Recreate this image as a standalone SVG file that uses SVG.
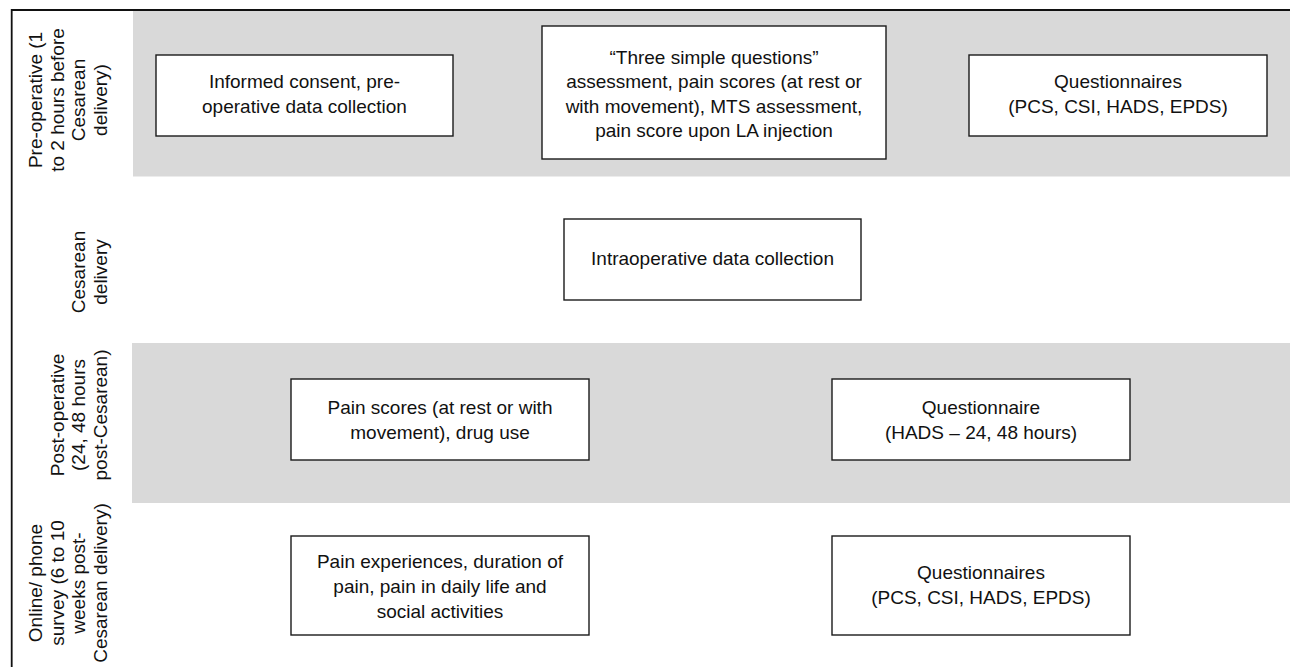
<svg xmlns="http://www.w3.org/2000/svg" width="1290" height="667" viewBox="0 0 1290 667">
<style>
  .band { fill: #d9d9d9; stroke: none; }
  .frame { stroke: #111; stroke-width: 1.8; fill: none; }
  .box { fill: #ffffff; stroke: #1a1a1a; stroke-width: 1.4; }
  .t { font-family: "Liberation Sans", Arial, sans-serif; font-size: 19px; fill: #111; text-anchor: middle; }
</style>
<rect width="1290" height="667" fill="#ffffff"/>
<g id="bands">
  <rect class="band" x="133" y="10" width="1157" height="166.5"/>
  <rect class="band" x="132" y="343" width="1158" height="160"/>
</g>
<g id="frame">
  <path class="frame" d="M11.7,667 L11.7,10 L1290,10"/>
</g>
<g id="labels">
  <g id="label-preop" transform="rotate(-90)">
    <text class="t" x="-100" y="42">Pre-operative (1</text>
    <text class="t" x="-100" y="63.7">to 2 hours before</text>
    <text class="t" x="-100" y="85.3">Cesarean</text>
    <text class="t" x="-100" y="107">delivery)</text>
  </g>
  <g id="label-cesarean" transform="rotate(-90)">
    <text class="t" x="-272" y="85.3">Cesarean</text>
    <text class="t" x="-272" y="107">delivery</text>
  </g>
  <g id="label-postop" transform="rotate(-90)">
    <text class="t" x="-415" y="63.7">Post-operative</text>
    <text class="t" x="-415" y="85.3">(24, 48 hours</text>
    <text class="t" x="-415" y="107">post-Cesarean)</text>
  </g>
  <g id="label-survey" transform="rotate(-90)">
    <text class="t" x="-583" y="42">Online/ phone</text>
    <text class="t" x="-583" y="63.7">survey (6 to 10</text>
    <text class="t" x="-583" y="85.3">weeks post-</text>
    <text class="t" x="-583" y="107">Cesarean delivery)</text>
  </g>
</g>
<g id="connectors"></g>
<g id="node-consent">
  <rect class="box" x="156" y="55" width="297" height="81"/>
  <text class="t" x="304.5" y="88">Informed consent, pre-</text>
  <text class="t" x="304.5" y="113">operative data collection</text>
</g>
<g id="node-three-questions">
  <rect class="box" x="542" y="26" width="344" height="133"/>
  <text class="t" x="714" y="63.5">“Three simple questions”</text>
  <text class="t" x="714" y="88">assessment, pain scores (at rest or</text>
  <text class="t" x="714" y="112.5">with movement), MTS assessment,</text>
  <text class="t" x="714" y="137">pain score upon LA injection</text>
</g>
<g id="node-questionnaires-pre">
  <rect class="box" x="969" y="55" width="298" height="81"/>
  <text class="t" x="1118" y="88">Questionnaires</text>
  <text class="t" x="1118" y="113">(PCS, CSI, HADS, EPDS)</text>
</g>
<g id="node-intraop">
  <rect class="box" x="564" y="219" width="297" height="81"/>
  <text class="t" x="712.5" y="264.5">Intraoperative data collection</text>
</g>
<g id="node-pain-scores">
  <rect class="box" x="291" y="379" width="298" height="81"/>
  <text class="t" x="440" y="413.5">Pain scores (at rest or with</text>
  <text class="t" x="440" y="438.5">movement), drug use</text>
</g>
<g id="node-hads">
  <rect class="box" x="832" y="379" width="298" height="81"/>
  <text class="t" x="981" y="413.5">Questionnaire</text>
  <text class="t" x="981" y="438.5">(HADS – 24, 48 hours)</text>
</g>
<g id="node-pain-experiences">
  <rect class="box" x="291" y="536" width="298" height="99"/>
  <text class="t" x="440" y="568">Pain experiences, duration of</text>
  <text class="t" x="440" y="593">pain, pain in daily life and</text>
  <text class="t" x="440" y="618">social activities</text>
</g>
<g id="node-questionnaires-post">
  <rect class="box" x="832" y="536" width="298" height="99"/>
  <text class="t" x="981" y="579">Questionnaires</text>
  <text class="t" x="981" y="604">(PCS, CSI, HADS, EPDS)</text>
</g>
</svg>
